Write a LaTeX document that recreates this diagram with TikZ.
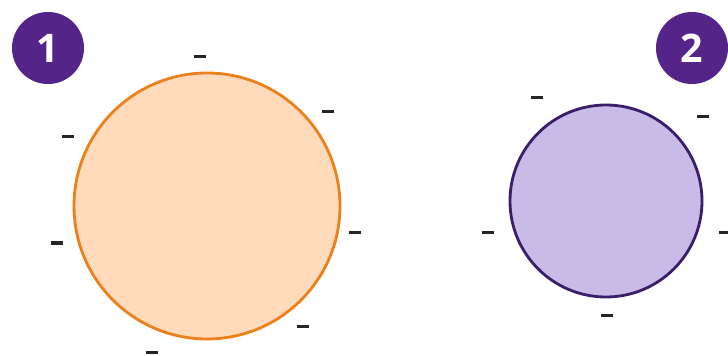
\documentclass[tikz,border=0pt]{standalone}
\usepackage{fontspec}
\setsansfont{Open Sans}
\definecolor{ballOrange}{RGB}{236, 128, 26}
\definecolor{ballPeach}{RGB}{255, 219, 188}
\definecolor{ballPurple}{RGB}{58, 30, 105}
\definecolor{ballLilac}{RGB}{201, 187, 231}
\definecolor{badgePurple}{RGB}{84, 36, 136}
\begin{document}
\begin{tikzpicture}[x=0.025cm, y=0.025cm,
    charge/.style={fill=black!85, inner sep=0pt, minimum width=0.3cm, minimum height=0.075cm},
    badge/.style={circle, fill=badgePurple, text=white, inner sep=0pt, minimum size=1.8cm,
      font=\sffamily\bfseries\fontsize{28}{28}\selectfont}]
        \useasboundingbox (0,0) rectangle (728,355);

        % Sphere 1
        \draw[ballOrange, line width=2pt, fill=ballPeach] (207,149) circle (133);
        \node[badge] (b1) at (48,307) {1};

        % Charges round sphere 1
        \node[charge] (c11) at (200,298) {};
        \node[charge] (c12) at (328,243) {};
        \node[charge] (c13) at (68,218) {};
        \node[charge] (c14) at (355,122) {};
        \node[charge] (c15) at (57,112) {};
        \node[charge] (c16) at (303,29) {};
        \node[charge] (c17) at (152,3) {};

        % Sphere 2
        \draw[ballPurple, line width=2pt, fill=ballLilac] (606,154) circle (96);
        \node[badge] (b2) at (692,307) {2};

        % Charges round sphere 2
        \node[charge] (c21) at (537,257) {};
        \node[charge] (c22) at (703,238) {};
        \node[charge] (c23) at (488,122) {};
        \node[charge] (c24) at (725,122) {};
        \node[charge] (c25) at (607,40) {};
      \end{tikzpicture}
\end{document}
